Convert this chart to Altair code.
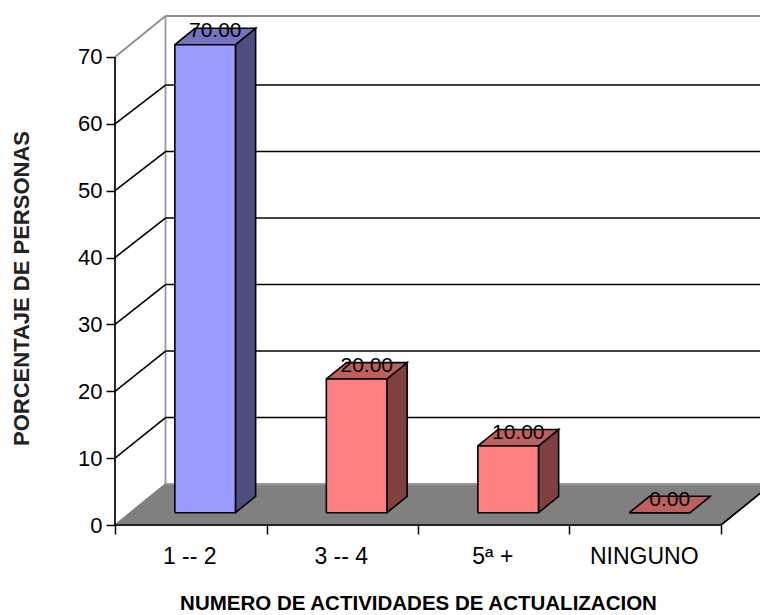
import altair as alt
import pandas as pd

# Survey results: share of people by number of refresher activities
categories = ["1 -- 2", "3 -- 4", "5ª +", "NINGUNO"]
values = [70, 20, 10, 0]
value_labels = ["70.00", "20.00", "10.00", "0.00"]
y_ticks = [0, 10, 20, 30, 40, 50, 60, 70]
x_ticks = [0, 1, 2, 3, 4]

# Oblique projection: one unit of depth moves a point by this much in data units
SKEW_X = 1 / 3
SKEW_Y = 6.13
BACK_WALL_SCALE = 0.9945
BAR_START, BAR_WIDTH = 0.295, 0.4
DEPTH_FRONT, DEPTH_BACK = 0.3, 0.7

PX_PER_CAT = 151.5
PX_PER_UNIT = 6.686
WIDTH, HEIGHT = 645, 509

FONT = "Liberation Sans"

x_enc = alt.X(
    "x:Q",
    scale=alt.Scale(domain=[0, WIDTH / PX_PER_CAT], nice=False, zero=False),
    title="NUMERO DE ACTIVIDADES DE ACTUALIZACION",
    axis=alt.Axis(
        values=x_ticks, labels=False, grid=False, domain=False,
        tickColor="black", tickWidth=1.5, tickSize=9,
        titleFont=FONT, titleFontSize=20.5, titleFontWeight="bold",
        titleColor="black", titleX=303, titleY=78,
        titleAlign="center", titleBaseline="middle",
    ),
)
y_enc = alt.Y(
    "y:Q",
    scale=alt.Scale(domain=[0, HEIGHT / PX_PER_UNIT], nice=False, zero=False),
    title="PORCENTAJE DE PERSONAS",
    axis=alt.Axis(
        values=y_ticks, grid=False, domain=False,
        tickColor="black", tickWidth=1.5, tickSize=9, labelPadding=4,
        labelFont=FONT, labelFontSize=22, labelColor="black",
        titleFont=FONT, titleFontSize=22, titleFontWeight="bold",
        titleColor="#222222", titleX=-94, titleY=272,
        titleAlign="center", titleBaseline="middle",
    ),
)


def project(cat, value, depth):
    return cat + depth * SKEW_X, value + depth * SKEW_Y


def polygon(points):
    """Table for a closed outline through (category, value, depth) points."""
    rows = []
    for i, p in enumerate(points + points[:1]):
        x, y = project(*p)
        rows.append({"x": x, "y": y, "o": i})
    return pd.DataFrame(rows)


def face(points, fill, stroke="black", stroke_width=1.6):
    return (
        alt.Chart(polygon(points))
        .mark_line(fill=fill, stroke=stroke, strokeWidth=stroke_width,
                   strokeJoin="miter", interpolate="linear")
        .encode(x=x_enc, y=y_enc, order="o:Q")
    )


def segment(a, b, color, width=1.6):
    return (
        alt.Chart(polygon([a, b]).iloc[:2])
        .mark_line(stroke=color, strokeWidth=width)
        .encode(x=x_enc, y=y_enc, order="o:Q")
    )


layers = []

# Floor of the box
n = len(categories)
layers.append(face([(0, 0, 0), (n, 0, 0), (n, 0, 1), (0, 0, 1)], "#808080", stroke="#808080"))

# Side and back wall frame
layers.append(segment((0, 70, 0), (0, 70, 1), "#8c8c8c", 1.8))
layers.append(segment((0, 0, 1), (0, 70, 1), "#999999", 1.8))
layers.append(segment((0, 70, 1), (n, 70, 1), "#8c8c8c", 1.8))
layers.append(segment((0, 0, 1), (n, 0, 1), "#999999", 1.8))

# Gridlines running along the side wall and across the back wall
for t in y_ticks[1:-1]:
    back = t * BACK_WALL_SCALE
    layers.append(segment((0, t, 0), (0, back, 1), "black"))
    layers.append(segment((0, back, 1), (n, back, 1), "black"))

# Value axis line and front and right edges of the floor
layers.append(segment((0, 0, 0), (0, 70, 0), "black", 1.7))
layers.append(segment((0, 0, 0), (n, 0, 0), "black", 1.7))
layers.append(segment((n, 0, 0), (n, 0, 1), "black", 1.7))

# Bars: side, top, then front face
palettes = [
    ("#9999FF", "#7373BF", "#4D4D80"),
    ("#FF8080", "#BF6060", "#804040"),
    ("#FF8080", "#BF6060", "#804040"),
    ("#FF8080", "#BF6060", "#804040"),
]
for i, (v, (front, top, side)) in enumerate(zip(values, palettes)):
    a = i + BAR_START
    b = a + BAR_WIDTH
    d0, d1 = DEPTH_FRONT, DEPTH_BACK
    layers.append(face([(b, 0, d0), (b, 0, d1), (b, v, d1), (b, v, d0)], side))
    layers.append(face([(a, v, d0), (b, v, d0), (b, v, d1), (a, v, d1)], top))
    layers.append(face([(a, 0, d0), (b, 0, d0), (b, v, d0), (a, v, d0)], front))

# Value labels sit on the middle of each bar's top face
label_rows = []
for i, (v, text) in enumerate(zip(values, value_labels)):
    x, y = project(i + BAR_START + BAR_WIDTH / 2, v, (DEPTH_FRONT + DEPTH_BACK) / 2)
    label_rows.append({"x": x, "y": y, "t": text})
layers.append(
    alt.Chart(pd.DataFrame(label_rows))
    .mark_text(font=FONT, fontSize=21, color="black", baseline="alphabetic", align="center", dy=1)
    .encode(x=x_enc, y=y_enc, text="t:N")
)

# Category labels under the floor
cat_df = pd.DataFrame({"x": [i + 0.5 for i in range(n)], "y": [0] * n, "t": categories})
layers.append(
    alt.Chart(cat_df)
    .mark_text(font=FONT, fontSize=23, color="black", baseline="middle", align="center", dy=32, dx=-1)
    .encode(x=x_enc, y=y_enc, text="t:N")
)

chart = (
    alt.layer(*layers)
    .properties(
        width=WIDTH,
        height=HEIGHT,
        autosize=alt.AutoSizeParams(type="none"),
        padding={"left": 115, "top": 16, "right": 0, "bottom": 90},
        background="white",
    )
    .configure_view(stroke=None)
)

chart.save("out.html", embed_options={"renderer": "svg", "actions": False})
